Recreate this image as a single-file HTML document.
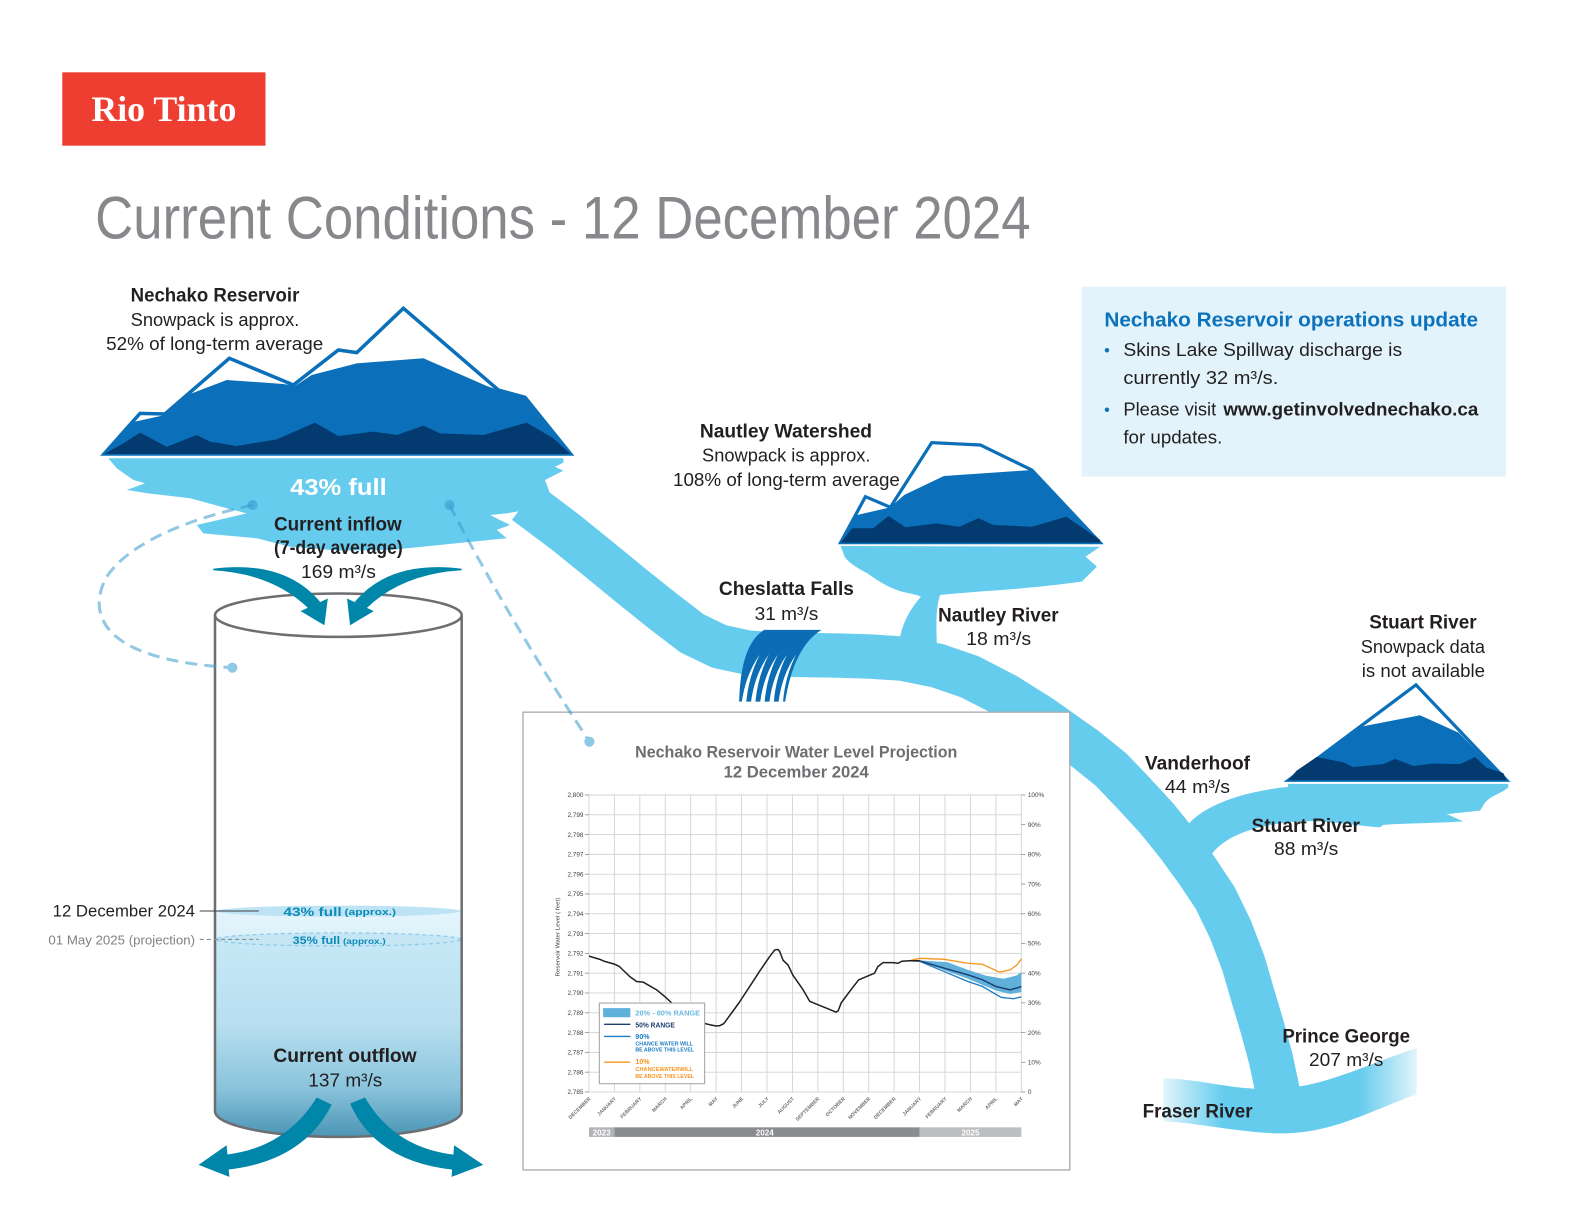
<!DOCTYPE html>
<html><head><meta charset="utf-8"><style>
html,body{margin:0;padding:0;background:#fff;}
svg{display:block}
text{font-family:"Liberation Sans",Arial,sans-serif;}
</style></head><body>
<svg width="1584" height="1224" viewBox="0 0 1568 1211.7" xmlns="http://www.w3.org/2000/svg">
<defs>
<linearGradient id="fr" gradientUnits="userSpaceOnUse" x1="1145" y1="0" x2="1410" y2="0">
<stop offset="0" stop-color="#66ccee" stop-opacity="0.12"/>
<stop offset="0.25" stop-color="#66ccee"/>
<stop offset="0.76" stop-color="#66ccee"/>
<stop offset="1" stop-color="#66ccee" stop-opacity="0.08"/>
</linearGradient>
<linearGradient id="wat" gradientUnits="userSpaceOnUse" x1="0" y1="902" x2="0" y2="1126">
<stop offset="0" stop-color="#e6f5fc"/>
<stop offset="0.12" stop-color="#dcf1fa"/>
<stop offset="0.135" stop-color="#c6e8f6"/>
<stop offset="0.5" stop-color="#b7dff0"/>
<stop offset="0.78" stop-color="#8ac4dc"/>
<stop offset="1" stop-color="#4a94b4"/>
</linearGradient>
</defs>
<rect x="0" y="0" width="1568" height="1212" fill="#fff"/>

<!-- Logo -->
<rect x="61.6" y="71.6" width="201.2" height="72.6" fill="#ee3e32"/>
<text x="90.4" y="119.8" font-weight="700" font-size="36" fill="#fff" textLength="143.6" lengthAdjust="spacingAndGlyphs" style="font-family:'Liberation Serif',serif">Rio Tinto</text>

<!-- Title -->
<text x="94.2" y="235.9" font-size="60" fill="#86888b" textLength="926" lengthAdjust="spacingAndGlyphs">Current Conditions - 12 December 2024</text>

<!-- Info box -->
<rect x="1070.7" y="283.8" width="420.1" height="188.1" fill="#e2f3fb"/>
<text x="1093.2" y="323.4" font-size="20" font-weight="700" fill="#0b72bb" textLength="370" lengthAdjust="spacingAndGlyphs">Nechako Reservoir operations update</text>
<text x="1093" y="352.4" font-size="16" fill="#0b72bb">•</text>
<text x="1112" y="352.4" font-size="18" fill="#231f20" textLength="276" lengthAdjust="spacingAndGlyphs">Skins Lake Spillway discharge is</text>
<text x="1112" y="380.1" font-size="18" fill="#231f20" textLength="153.4" lengthAdjust="spacingAndGlyphs">currently 32 m³/s.</text>
<text x="1093" y="411.5" font-size="16" fill="#0b72bb">•</text>
<text x="1112" y="411.5" font-size="18" fill="#231f20" textLength="92" lengthAdjust="spacingAndGlyphs">Please visit</text>
<text x="1211" y="411.5" font-size="18" font-weight="700" fill="#231f20" textLength="252.4" lengthAdjust="spacingAndGlyphs">www.getinvolvednechako.ca</text>
<text x="1112" y="438.9" font-size="18" fill="#231f20" textLength="98" lengthAdjust="spacingAndGlyphs">for updates.</text>

<!-- Fraser river -->
<path fill="url(#fr)" d="M1151.6,1067.6 C1190,1068 1220,1080 1265,1078 C1310,1076 1350,1055 1402.4,1037.5 L1402.4,1083.5 C1360,1098 1320,1122 1270,1122 C1230,1122 1190,1112 1151.6,1110 Z"/>

<!-- Main river -->
<polyline fill="none" stroke="#66ccee" stroke-width="44" stroke-linejoin="round" points="520,497 560,527 594.7,555.1 625,580 655,604 685,627 712,640 740,646 770,648 800,648.5 830,649 862,650 893,652 928,659 960,670 995,688 1030,710 1074,741 1100,762 1122,785 1145,810 1166,836 1185,862 1203,889 1218,920 1231,954 1240,985 1249,1015 1258,1048 1266,1086"/>

<!-- Stuart river + lake -->
<path fill="#66ccee" d="M1172,822 C1185,800 1225,784 1275,779 L1275,776 L1493.1,776 L1493.1,779.5 C1488,784 1484,785 1481.6,786.5 C1474,790 1470,794 1468.4,797.2 C1467,800 1466,801 1465.1,802.5 L1432.1,806 L1448.6,813.1 C1420,815 1390,815 1369.4,816.6 L1366.1,819.1 C1340,817 1310,812 1290.2,813 C1250,815 1215,825 1200,845 Z"/>

<!-- Nautley lake + river -->
<path fill="#66ccee" d="M832.1,540.5 L1089,541.2 L1074.6,551 L1085.9,560.9 L1070.8,575.8 C1040,580 1010,583 968.5,585.7 C955,587 940,588 930.6,589 C927,600 926,615 928,648 L889,648 C890,630 893,612 911.7,590.6 C905,588 898,587 892.7,585.7 C875,580 865,572 858.6,567.5 C848,562 840,557 836,551 Z"/>

<!-- Main lake -->
<polygon fill="#66ccee" points="107.2,453.7 557.7,453.7 557.7,458 549.4,462 557.7,465.9 539.5,475.2 545,490 520,505 501.6,508.2 485.1,509.8 504.9,519.7 491.7,524.6 501.6,532.9 452.1,537.8 386.1,544.5 336.6,545.1 287.1,541.2 254.1,532.9 201.3,528 194.7,519.7 244.2,508.2 231,504.9 188.1,493.3 146.8,488.4 125.4,485 143.5,478.4 132,475.2 115.5,463.6"/>

<!-- Main mountain -->
<polygon fill="#fff" stroke="#0b70b9" stroke-width="3.5" stroke-linejoin="miter" points="102.95,449.4 138.6,409.2 163.3,409.8 227,354.7 290.4,381.1 334.9,346.5 353.1,349.1 399.3,305.2 493.3,386.1 519.7,393.3 564.9,449.4"/>
<polygon fill="#0b70b9" points="102.95,449.4 133.6,417.4 163.3,410.8 188.1,390 224.4,376.2 280.5,380.1 292,382.1 308.5,371.2 353.1,359.7 419.1,354.7 481.8,382.1 493.3,386.1 519.7,393.3 564.9,449.4"/>
<polygon fill="#033a70" points="102.95,449.4 122.1,438.9 138.6,428.3 165,442.2 194.7,430.6 207.9,437.2 234.3,441.5 273.9,434.9 311.8,418.4 334.9,431.6 369.6,427.3 392.7,430.6 419.1,421.4 435.6,429 478.5,430.6 521.3,418.4 547.7,433.9 564.9,449.4"/>

<!-- Nautley mountain -->
<polygon fill="#fff" stroke="#0b70b9" stroke-width="3.2" points="832.1,537.2 856.7,491.7 881.4,502.2 922.3,438.2 970.4,440.5 1021.5,465.3 1089,537.2"/>
<polygon fill="#0b70b9" points="832.1,537.2 848,510 881.4,502.2 895,490 934.4,471.2 1021.5,465.3 1063.2,511.5 1089,537.2"/>
<polygon fill="#033a70" points="832.1,537.2 843.5,523 864.3,523 879.5,510.8 896.5,522 926.8,518.1 949.6,521.4 968.5,513.1 983.7,519.7 1021.5,521.4 1055.6,511.5 1089,534.5 1089,537.2"/>

<!-- Stuart mountain -->
<polygon fill="#fff" stroke="#0b70b9" stroke-width="3.2" points="1275.3,772.4 1401.7,678 1491.5,772.4"/>
<polygon fill="#0b70b9" points="1275.3,772.4 1347,719.4 1405.7,708.1 1444,725.4 1478.3,760 1491.5,772.4"/>
<polygon fill="#033a70" points="1275.3,772.4 1283.6,762.9 1303.4,749.4 1329.8,754.7 1339.7,759.3 1369.4,756.5 1381,751.2 1399.1,758.3 1418.9,755.8 1445.3,756.5 1460.1,749.4 1471.7,760 1488.2,765.3 1491.5,772.4"/>

<!-- Falls -->
<path fill="#0b6db4" d="M756.4,623.6 L813.2,623.6 Q786,640 777.2,694.6 L731.7,694.6 Q733,638 756.4,623.6 Z"/>
<g fill="#fff">
<path d="M734.3,695 Q738,668 752,648 Q741,670 738.7,695 Z"/>
<path d="M743.4,695 Q747,668 761,648 Q750,670 747.8,695 Z"/>
<path d="M752.5,695 Q756,668 770,648 Q759,670 756.9,695 Z"/>
<path d="M761.6,695 Q765,668 779,648 Q768,670 766,695 Z"/>
<path d="M770.7,695 Q774,668 788,648 Q777,670 775.1,695 Z"/>
</g>

<!-- Text labels -->
<g fill="#231f20">
<text x="212.8" y="298.6" font-size="19.5" font-weight="700" text-anchor="middle" textLength="167" lengthAdjust="spacingAndGlyphs">Nechako Reservoir</text>
<text x="212.8" y="322.7" font-size="18.5" text-anchor="middle" textLength="167" lengthAdjust="spacingAndGlyphs">Snowpack is approx.</text>
<text x="212.5" y="346.5" font-size="18.5" text-anchor="middle" textLength="215" lengthAdjust="spacingAndGlyphs">52% of long-term average</text>

<text x="778" y="432.9" font-size="19.5" font-weight="700" text-anchor="middle" textLength="170.5" lengthAdjust="spacingAndGlyphs">Nautley Watershed</text>
<text x="778.3" y="457" font-size="18.5" text-anchor="middle" textLength="166.7" lengthAdjust="spacingAndGlyphs">Snowpack is approx.</text>
<text x="778.5" y="481.1" font-size="18.5" text-anchor="middle" textLength="224.6" lengthAdjust="spacingAndGlyphs">108% of long-term average</text>

<text x="778.5" y="589" font-size="19.5" font-weight="700" text-anchor="middle" textLength="133.7" lengthAdjust="spacingAndGlyphs">Cheslatta Falls</text>
<text x="778.5" y="613.7" font-size="18.5" text-anchor="middle" textLength="63" lengthAdjust="spacingAndGlyphs">31 m³/s</text>

<text x="988.3" y="615.4" font-size="19.5" font-weight="700" text-anchor="middle" textLength="119.3" lengthAdjust="spacingAndGlyphs">Nautley River</text>
<text x="988.6" y="638.5" font-size="18.5" text-anchor="middle" textLength="64.4" lengthAdjust="spacingAndGlyphs">18 m³/s</text>

<text x="1408.6" y="622.2" font-size="19.5" font-weight="700" text-anchor="middle" textLength="106.3" lengthAdjust="spacingAndGlyphs">Stuart River</text>
<text x="1408.5" y="646.2" font-size="18.5" text-anchor="middle" textLength="123" lengthAdjust="spacingAndGlyphs">Snowpack data</text>
<text x="1409" y="670" font-size="18.5" text-anchor="middle" textLength="122" lengthAdjust="spacingAndGlyphs">is not available</text>

<text x="1185.4" y="761.8" font-size="19.5" font-weight="700" text-anchor="middle" textLength="104" lengthAdjust="spacingAndGlyphs">Vanderhoof</text>
<text x="1185.4" y="784.8" font-size="18.5" text-anchor="middle" textLength="64.4" lengthAdjust="spacingAndGlyphs">44 m³/s</text>

<text x="1292.6" y="823.7" font-size="19.5" font-weight="700" text-anchor="middle" textLength="107.3" lengthAdjust="spacingAndGlyphs">Stuart River</text>
<text x="1293" y="846.6" font-size="18.5" text-anchor="middle" textLength="63.6" lengthAdjust="spacingAndGlyphs">88 m³/s</text>

<text x="1332.6" y="1032.2" font-size="19.5" font-weight="700" text-anchor="middle" textLength="126.4" lengthAdjust="spacingAndGlyphs">Prince George</text>
<text x="1332.6" y="1055.2" font-size="18.5" text-anchor="middle" textLength="73.6" lengthAdjust="spacingAndGlyphs">207 m³/s</text>

<text x="1185.5" y="1106.5" font-size="19.5" font-weight="700" text-anchor="middle" textLength="108.9" lengthAdjust="spacingAndGlyphs">Fraser River</text>

<text x="334.4" y="525.3" font-size="19.5" font-weight="700" text-anchor="middle" textLength="126.4" lengthAdjust="spacingAndGlyphs">Current inflow</text>
<text x="334.9" y="548.4" font-size="19.5" font-weight="700" text-anchor="middle" textLength="127.4" lengthAdjust="spacingAndGlyphs">(7-day average)</text>
<text x="335" y="572.3" font-size="18.5" text-anchor="middle" textLength="74" lengthAdjust="spacingAndGlyphs">169 m³/s</text>
</g>
<text x="335" y="490" font-size="23" font-weight="700" fill="#fff" text-anchor="middle" textLength="95.7" lengthAdjust="spacingAndGlyphs">43% full</text>

<!-- Cylinder -->
<rect x="212.8" y="609" width="244.2" height="491" fill="#fff"/>
<path d="M212.8,902 L457,902 L457,1100 A122.1,25.5 0 0 1 212.8,1100 Z" fill="url(#wat)"/>
<ellipse cx="334.9" cy="902" rx="121" ry="5.5" fill="#bde3f4"/>
<ellipse cx="334.9" cy="930" rx="121" ry="6.5" fill="#c4e6f5" stroke="#8fcbe8" stroke-width="1.2" stroke-dasharray="4 3"/>
<path d="M212.8,609 L212.8,1100 A122.1,25.5 0 0 0 457,1100 L457,609" fill="none" stroke="#6d6e71" stroke-width="2.5"/>
<ellipse cx="334.9" cy="609" rx="122.1" ry="21.5" fill="#fff" stroke="#6d6e71" stroke-width="2.5"/>

<text x="280.5" y="906.6" font-size="11.5" font-weight="700" fill="#0a8bb8" textLength="57.7" lengthAdjust="spacingAndGlyphs">43% full</text>
<text x="341" y="906" font-size="9" font-weight="700" fill="#0a8bb8" textLength="51" lengthAdjust="spacingAndGlyphs">(approx.)</text>
<text x="289.7" y="934.5" font-size="10.5" font-weight="700" fill="#0a8bb8" textLength="47" lengthAdjust="spacingAndGlyphs">35% full</text>
<text x="339.5" y="934.5" font-size="8.5" font-weight="700" fill="#0a8bb8" textLength="42.3" lengthAdjust="spacingAndGlyphs">(approx.)</text>

<text x="193" y="907.4" font-size="16" fill="#231f20" text-anchor="end" textLength="140.9" lengthAdjust="spacingAndGlyphs">12 December 2024</text>
<line x1="197.7" y1="901.9" x2="256.1" y2="901.9" stroke="#414042" stroke-width="1"/>
<text x="193" y="934.8" font-size="13" fill="#808285" text-anchor="end" textLength="145.1" lengthAdjust="spacingAndGlyphs">01 May 2025 (projection)</text>
<line x1="197.7" y1="930" x2="256.1" y2="930" stroke="#8a8c8f" stroke-width="1" stroke-dasharray="4 3"/>

<text x="341.5" y="1051.4" font-size="19.5" font-weight="700" fill="#231f20" text-anchor="middle" textLength="141.9" lengthAdjust="spacingAndGlyphs">Current outflow</text>
<text x="341.8" y="1075.7" font-size="18.5" fill="#231f20" text-anchor="middle" textLength="73.3" lengthAdjust="spacingAndGlyphs">137 m³/s</text>

<!-- Inflow arrows -->
<g fill="#0086a9">
<path d="M211,563 Q282,554 317,596 L305,602 Q270,568 211,564.5 Z"/>
<polygon points="297.5,605 324.5,592.5 321.1,619"/>
<path d="M457,563 Q386,554 351,596 L363,602 Q398,568 457,564.5 Z"/>
<polygon points="343.5,592.5 370,605 346.5,619"/>
</g>
<!-- Outflow arrows -->
<g fill="#0086a9">
<path d="M313.5,1086.5 L328.3,1093.5 Q300,1150 224,1158 L224,1143 Q283,1136 313.5,1086.5 Z"/>
<polygon points="224.3,1133.7 196.5,1153.2 227,1165"/>
<path d="M361.3,1086.5 L346.5,1092.5 Q372,1150 449,1158 L449,1143 Q390,1136 361.3,1086.5 Z"/>
<polygon points="449.5,1133.7 478.4,1153.2 447,1165"/>
</g>

<!-- Dashed connector 1 -->
<g fill="none" stroke="#3a9bd0" stroke-opacity="0.55" stroke-width="3" stroke-dasharray="12 7">
<path d="M250,500 C180,515 125,540 105,572 C90,600 100,625 130,640 C160,655 200,659 230,661"/>
</g>
<circle cx="250" cy="500" r="5" fill="#3a9bd0" fill-opacity="0.6"/>
<circle cx="230" cy="661" r="5" fill="#8dc8e5"/>

<!-- Chart box -->
<rect x="517.7" y="705" width="541.3" height="453.2" fill="#fff" stroke="#a7a9ac" stroke-width="1.3"/>

<!-- Dashed connector 2 -->
<path d="M445,500 Q505,615 583.4,734.2" fill="none" stroke="#3a9bd0" stroke-opacity="0.55" stroke-width="3" stroke-dasharray="12 7"/>
<circle cx="445" cy="500" r="5" fill="#3a9bd0" fill-opacity="0.6"/>
<circle cx="583.4" cy="734.2" r="5" fill="#8dc8e5"/>

<!-- Chart title -->
<text x="788.2" y="749.9" font-size="16" font-weight="700" fill="#6d6e71" text-anchor="middle" textLength="319" lengthAdjust="spacingAndGlyphs">Nechako Reservoir Water Level Projection</text>
<text x="788.2" y="769.6" font-size="16" font-weight="700" fill="#6d6e71" text-anchor="middle" textLength="143.7" lengthAdjust="spacingAndGlyphs">12 December 2024</text>

<!-- Grid -->
<g stroke="#d1d3d4" stroke-width="0.9">
<line x1="583" y1="787" x2="1011" y2="787"/>
<line x1="583" y1="806.6" x2="1011" y2="806.6"/>
<line x1="583" y1="826.2" x2="1011" y2="826.2"/>
<line x1="583" y1="845.8" x2="1011" y2="845.8"/>
<line x1="583" y1="865.4" x2="1011" y2="865.4"/>
<line x1="583" y1="885" x2="1011" y2="885"/>
<line x1="583" y1="904.6" x2="1011" y2="904.6"/>
<line x1="583" y1="924.2" x2="1011" y2="924.2"/>
<line x1="583" y1="943.8" x2="1011" y2="943.8"/>
<line x1="583" y1="963.4" x2="1011" y2="963.4"/>
<line x1="583" y1="983" x2="1011" y2="983"/>
<line x1="583" y1="1002.6" x2="1011" y2="1002.6"/>
<line x1="583" y1="1022.2" x2="1011" y2="1022.2"/>
<line x1="583" y1="1041.8" x2="1011" y2="1041.8"/>
<line x1="583" y1="1061.4" x2="1011" y2="1061.4"/>
<line x1="583" y1="1081" x2="1011" y2="1081"/>
<line x1="583" y1="787" x2="583" y2="1081"/>
<line x1="608.18" y1="787" x2="608.18" y2="1081"/>
<line x1="633.35" y1="787" x2="633.35" y2="1081"/>
<line x1="658.53" y1="787" x2="658.53" y2="1081"/>
<line x1="683.7" y1="787" x2="683.7" y2="1081"/>
<line x1="708.88" y1="787" x2="708.88" y2="1081"/>
<line x1="734.06" y1="787" x2="734.06" y2="1081"/>
<line x1="759.23" y1="787" x2="759.23" y2="1081"/>
<line x1="784.41" y1="787" x2="784.41" y2="1081"/>
<line x1="809.58" y1="787" x2="809.58" y2="1081"/>
<line x1="834.76" y1="787" x2="834.76" y2="1081"/>
<line x1="859.94" y1="787" x2="859.94" y2="1081"/>
<line x1="885.11" y1="787" x2="885.11" y2="1081"/>
<line x1="910.29" y1="787" x2="910.29" y2="1081"/>
<line x1="935.46" y1="787" x2="935.46" y2="1081"/>
<line x1="960.64" y1="787" x2="960.64" y2="1081"/>
<line x1="985.82" y1="787" x2="985.82" y2="1081"/>
<line x1="1011" y1="787" x2="1011" y2="1081"/>
</g>
<g stroke="#8a8c8f" stroke-width="0.8">
<line x1="579" y1="787" x2="583" y2="787"/><line x1="579" y1="806.6" x2="583" y2="806.6"/><line x1="579" y1="826.2" x2="583" y2="826.2"/><line x1="579" y1="845.8" x2="583" y2="845.8"/><line x1="579" y1="865.4" x2="583" y2="865.4"/><line x1="579" y1="885" x2="583" y2="885"/><line x1="579" y1="904.6" x2="583" y2="904.6"/><line x1="579" y1="924.2" x2="583" y2="924.2"/><line x1="579" y1="943.8" x2="583" y2="943.8"/><line x1="579" y1="963.4" x2="583" y2="963.4"/><line x1="579" y1="983" x2="583" y2="983"/><line x1="579" y1="1002.6" x2="583" y2="1002.6"/><line x1="579" y1="1022.2" x2="583" y2="1022.2"/><line x1="579" y1="1041.8" x2="583" y2="1041.8"/><line x1="579" y1="1061.4" x2="583" y2="1061.4"/><line x1="579" y1="1081" x2="583" y2="1081"/>
<line x1="1011" y1="787" x2="1015" y2="787"/><line x1="1011" y1="816.4" x2="1015" y2="816.4"/><line x1="1011" y1="845.8" x2="1015" y2="845.8"/><line x1="1011" y1="875.2" x2="1015" y2="875.2"/><line x1="1011" y1="904.6" x2="1015" y2="904.6"/><line x1="1011" y1="934" x2="1015" y2="934"/><line x1="1011" y1="963.4" x2="1015" y2="963.4"/><line x1="1011" y1="992.8" x2="1015" y2="992.8"/><line x1="1011" y1="1022.2" x2="1015" y2="1022.2"/><line x1="1011" y1="1051.6" x2="1015" y2="1051.6"/><line x1="1011" y1="1081" x2="1015" y2="1081"/>
</g>
<g font-size="6.3" fill="#414042" text-anchor="end">
<text x="577.5" y="789.2">2,800</text><text x="577.5" y="808.8">2,799</text><text x="577.5" y="828.4">2,798</text><text x="577.5" y="848">2,797</text><text x="577.5" y="867.6">2,796</text><text x="577.5" y="887.2">2,795</text><text x="577.5" y="906.8">2,794</text><text x="577.5" y="926.4">2,793</text><text x="577.5" y="946">2,792</text><text x="577.5" y="965.6">2,791</text><text x="577.5" y="985.2">2,790</text><text x="577.5" y="1004.8">2,789</text><text x="577.5" y="1024.4">2,788</text><text x="577.5" y="1044">2,787</text><text x="577.5" y="1063.6">2,786</text><text x="577.5" y="1083.2">2,785</text>
</g>
<g font-size="6.3" fill="#414042">
<text x="1017.5" y="789.2">100%</text><text x="1017.5" y="818.6">90%</text><text x="1017.5" y="848">80%</text><text x="1017.5" y="877.4">70%</text><text x="1017.5" y="906.8">60%</text><text x="1017.5" y="936.2">50%</text><text x="1017.5" y="965.6">40%</text><text x="1017.5" y="995">30%</text><text x="1017.5" y="1024.4">20%</text><text x="1017.5" y="1053.8">10%</text><text x="1017.5" y="1083.2">0</text>
</g>
<text transform="translate(553.8,927.7) rotate(-90)" font-size="5.6" fill="#414042" text-anchor="middle" textLength="78" lengthAdjust="spacingAndGlyphs">Reservoir Water Level ( feet)</text>

<!-- Month labels -->
<g font-size="5" font-weight="700" fill="#6d6e71" text-anchor="end">
<text transform="translate(585,1088) rotate(-45)">DECEMBER</text>
<text transform="translate(610.2,1088) rotate(-45)">JANUARY</text>
<text transform="translate(635.4,1088) rotate(-45)">FEBRUARY</text>
<text transform="translate(660.5,1088) rotate(-45)">MARCH</text>
<text transform="translate(685.7,1088) rotate(-45)">APRIL</text>
<text transform="translate(710.9,1088) rotate(-45)">MAY</text>
<text transform="translate(736.1,1088) rotate(-45)">JUNE</text>
<text transform="translate(761.2,1088) rotate(-45)">JULY</text>
<text transform="translate(786.4,1088) rotate(-45)">AUGUST</text>
<text transform="translate(811.6,1088) rotate(-45)">SEPTEMBER</text>
<text transform="translate(836.8,1088) rotate(-45)">OCTOBER</text>
<text transform="translate(861.9,1088) rotate(-45)">NOVEMBER</text>
<text transform="translate(887.1,1088) rotate(-45)">DECEMBER</text>
<text transform="translate(912.3,1088) rotate(-45)">JANUARY</text>
<text transform="translate(937.5,1088) rotate(-45)">FEBRUARY</text>
<text transform="translate(962.6,1088) rotate(-45)">MARCH</text>
<text transform="translate(987.8,1088) rotate(-45)">APRIL</text>
<text transform="translate(1013,1088) rotate(-45)">MAY</text>
</g>

<!-- Year bar -->
<rect x="583" y="1116" width="25.2" height="9.5" fill="#b1b3b6"/>
<rect x="608.2" y="1116" width="302.1" height="9.5" fill="#8a8c8f"/>
<rect x="910.3" y="1116" width="100.7" height="9.5" fill="#bcbec0"/>
<g font-size="8" font-weight="700" fill="#fff" text-anchor="middle">
<text x="595.6" y="1124">2023</text>
<text x="757" y="1124">2024</text>
<text x="960.7" y="1124">2025</text>
</g>

<!-- Series -->
<polygon fill="#5fb0da" points="910.3,950.7 938,952.6 958.1,960.1 975.7,965.8 993.4,968.9 1006,965.8 1011,962.4 1011,982 999.9,984 985.8,980.6 958.1,968.9 934.7,960.5 910.3,951.6"/>
<polyline fill="none" stroke="#f7941d" stroke-width="1.3" points="900.2,951.1 910.3,948.7 934.7,949.7 958.1,953.6 972.5,954.6 989.6,962.4 999.9,960.1 1006.7,955.2 1011,949.3"/>
<polyline fill="none" stroke="#1b7dc4" stroke-width="1.3" points="900.2,951.1 910.3,951.6 934.7,961.8 958.1,971.6 972.5,976.5 990.9,987.3 1003.4,988.7 1011,986.9"/>
<polyline fill="none" stroke="#1c3d6e" stroke-width="1.4" points="900.2,951.1 910.3,951.2 934.7,958.5 958.1,965 972.5,969.9 985.8,976.5 999.9,979.9 1008.5,977.5 1011,976.5"/>
<polyline fill="none" stroke="#231f20" stroke-width="1.5" stroke-linejoin="round" points="583,946.5 593.8,949.7 598.1,951.6 608.2,954.4 613.2,956.9 623.3,966.7 630.1,971.6 636.6,972.2 650,979.9 658.5,986.9 664.8,992.8 673.6,1000.6 683.7,1008.5 691.3,1012.4 697.6,1013.2 702.6,1014.4 708.9,1015.7 712.7,1015.3 716.4,1013.4 721.5,1006.5 731.5,992.8 745.4,971.6 751.7,961.8 761.8,947.1 766.8,940.5 770.1,939.9 771.8,941.8 775.1,950.5 780.1,955.4 784.9,965.4 795,979.9 801.5,991.2 809.6,994.6 817.9,997.9 827.7,1002 829.7,1000.6 832.7,992.8 842.3,979.9 849.9,970.1 859.2,966.1 865.7,963.4 869,956.9 874,953 883.9,953 888.9,953.6 892.7,951.6 900.2,951.1 910.3,951.1"/>

<!-- Legend -->
<rect x="593.3" y="993" width="104.2" height="79.8" fill="#fff" stroke="#a7a9ac" stroke-width="1.1"/>
<rect x="597" y="998" width="27" height="9" fill="#5fb0da"/>
<text x="629" y="1005.5" font-size="7" font-weight="700" fill="#6cb8e0" textLength="64" lengthAdjust="spacingAndGlyphs">20% - 80% RANGE</text>
<line x1="598" y1="1014" x2="624" y2="1014" stroke="#1c3d6e" stroke-width="1.3"/>
<text x="629" y="1017" font-size="7" font-weight="700" fill="#1c3d6e" textLength="39" lengthAdjust="spacingAndGlyphs">50% RANGE</text>
<line x1="598" y1="1026" x2="624" y2="1026" stroke="#1b7dc4" stroke-width="1.3"/>
<text x="629" y="1028.5" font-size="7" font-weight="700" fill="#1b7dc4">90%</text>
<text x="629" y="1035" font-size="5" font-weight="700" fill="#1b7dc4" textLength="57" lengthAdjust="spacingAndGlyphs">CHANCE WATER WILL</text>
<text x="629" y="1041" font-size="5" font-weight="700" fill="#1b7dc4" textLength="58" lengthAdjust="spacingAndGlyphs">BE ABOVE THIS LEVEL</text>
<line x1="598" y1="1051.5" x2="624" y2="1051.5" stroke="#f7941d" stroke-width="1.3"/>
<text x="629" y="1053.5" font-size="7" font-weight="700" fill="#f7941d">10%</text>
<text x="629" y="1060" font-size="5" font-weight="700" fill="#f7941d" textLength="57" lengthAdjust="spacingAndGlyphs">CHANCEWATERWILL</text>
<text x="629" y="1067" font-size="5" font-weight="700" fill="#f7941d" textLength="58" lengthAdjust="spacingAndGlyphs">BE ABOVE THIS LEVEL</text>
</svg>
</body></html>
